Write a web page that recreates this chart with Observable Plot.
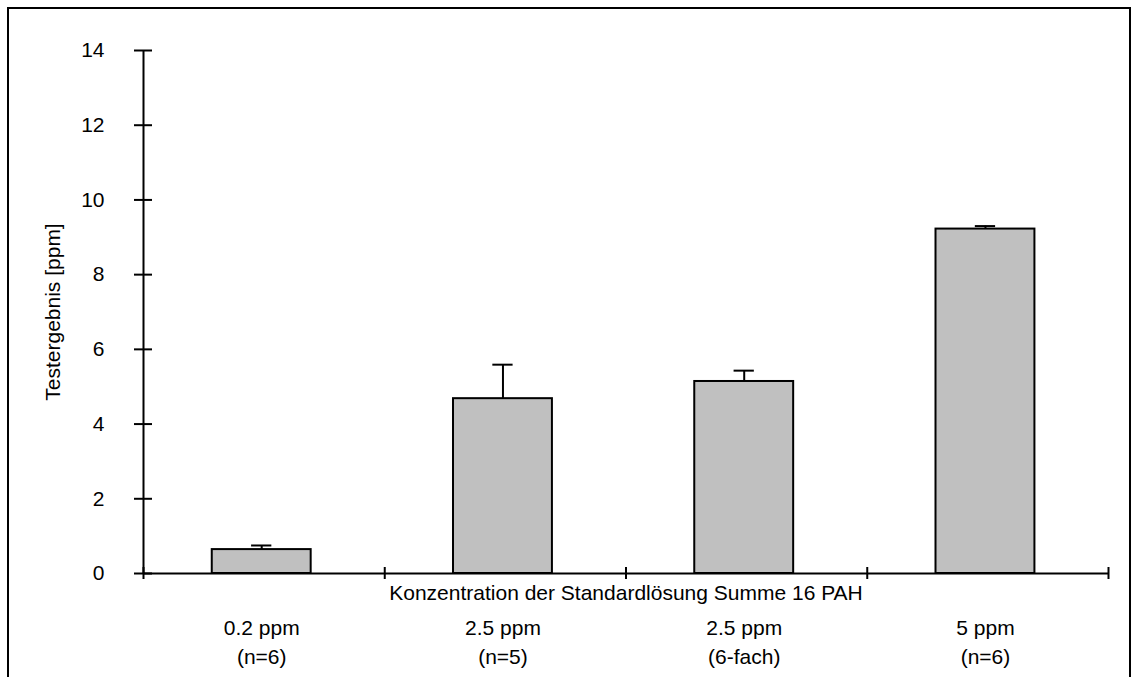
<!DOCTYPE html>
<html>
<head>
<meta charset="utf-8">
<script src="https://cdn.jsdelivr.net/npm/d3@7"></script>
<script src="https://cdn.jsdelivr.net/npm/@observablehq/plot@0.6"></script>
<style>
  html, body { margin: 0; padding: 0; background: #fff; }
  #wrap { position: relative; width: 1131px; height: 677px; overflow: hidden; }
  #frame { position: absolute; left: 7px; top: 7px; width: 1124px; height: 700px;
           border: 2px solid #000; pointer-events: none; box-sizing: border-box; }
</style>
</head>
<body>
<div id="wrap"><div id="frame"></div></div>
<script>
const categories = ["0.2 ppm", "2.5 ppm", "2.5 ppm", "5 ppm"];
const subLabels = ["(n=6)", "(n=5)", "(6-fach)", "(n=6)"];
const values = [0.64, 4.68, 5.14, 9.22];
const errors = [0.11, 0.91, 0.29, 0.08];
const yTicks = [0, 2, 4, 6, 8, 10, 12, 14];
const xTitle = "Konzentration der Standardlösung Summe 16 PAH";
const yTitle = "Testergebnis [ppm]";

const data = categories.map((c, i) => ({
  i, cat: c, sub: subLabels[i], value: values[i], err: errors[i],
  label: c + "\n" + subLabels[i]
}));
const c = d => d.i + 0.49;
const blank = () => "";

const chart = Plot.plot({
  width: 1131,
  height: 677,
  marginLeft: 143,
  marginRight: 23,
  marginTop: 50,
  marginBottom: 104,
  style: { fontFamily: "'Liberation Sans', Arial, sans-serif", fontSize: "21px", background: "transparent", color: "#000" },
  x: { type: "linear", domain: [0, 4], axis: null },
  y: { domain: [0, 14], axis: null },
  marks: [
    Plot.rectY(data, { x1: d => d.i + 0.285, x2: d => d.i + 0.695, y1: 0, y2: "value",
      fill: "#c0c0c0", stroke: "#000", strokeWidth: 2 }),
    Plot.ruleX(data, { x: c, y1: "value", y2: d => d.value + d.err, stroke: "#000", strokeWidth: 2 }),
    Plot.ruleY(data, { y: d => d.value + d.err, x1: d => c(d) - 0.042, x2: d => c(d) + 0.042, stroke: "#000", strokeWidth: 2 }),
    Plot.ruleX([0], { stroke: "#000", strokeWidth: 2 }),
    Plot.ruleY([0], { stroke: "#000", strokeWidth: 2 }),
    Plot.axisY({ ticks: yTicks, tickSize: 9, tickFormat: blank, label: null, strokeWidth: 2, stroke: "#000" }),
    Plot.axisY({ ticks: yTicks, tickSize: -9, tickFormat: blank, label: null, strokeWidth: 2, stroke: "#000" }),
    Plot.axisY({ ticks: yTicks, tickSize: 0, tickPadding: 39, label: null, fill: "#000" }),
    Plot.axisX({ ticks: [0, 1, 2, 3, 4], tickSize: 6, tickFormat: blank, label: null, strokeWidth: 2, stroke: "#000" }),
    Plot.axisX({ ticks: [0, 1, 2, 3, 4], tickSize: -6, tickFormat: blank, label: null, strokeWidth: 2, stroke: "#000" }),
    Plot.text(data, { x: c, text: "label", frameAnchor: "bottom", lineAnchor: "top", dy: 41, lineHeight: 1.38, fill: "#000" }),
    Plot.text([xTitle], { x: 2, text: d => d, frameAnchor: "bottom", lineAnchor: "top", dy: 12, fill: "#000" }),
    Plot.text([yTitle], { text: d => d, frameAnchor: "left", textAnchor: "middle", rotate: -90, dx: -90, fill: "#000" })
  ]
});
document.getElementById("wrap").prepend(chart);
</script>
</body>
</html>
